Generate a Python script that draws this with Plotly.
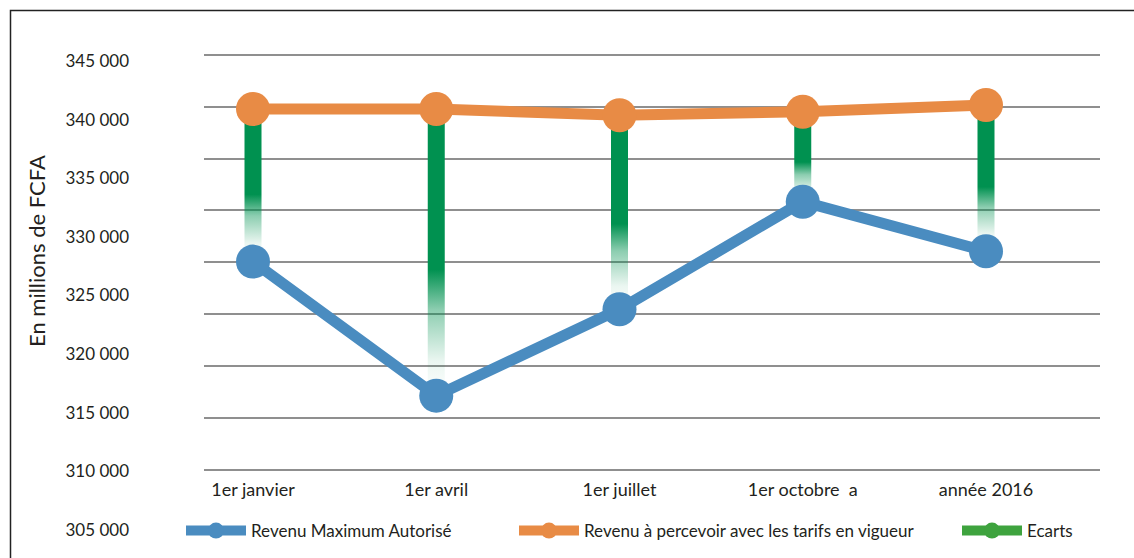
import plotly.graph_objects as go

# ---------------- data ----------------
categories = ["1er janvier", "1er avril", "1er juillet", "1er octobre  a", "année 2016"]
revenu_max = [325070, 312160, 320480, 330840, 326070]          # Revenu Maximum Autorisé
revenu_tarifs = [339770, 339770, 339160, 339510, 340160]       # Revenu à percevoir avec les tarifs en vigueur
y_ticks = [345000, 340000, 335000, 330000, 325000, 320000, 315000, 310000, 305000]
y_ticktext = ["345 000", "340 000", "335 000", "330 000", "325 000", "320 000", "315 000", "310 000", "305 000"]
legend_names = ["Revenu Maximum Autorisé", "Revenu à percevoir avec les tarifs en vigueur", "Ecarts"]

# ---------------- styling / layout geometry ----------------
W, H = 1134, 558
L, R, T, B = 204, 1100, 40, 556
PW, PH = R - L, B - T
BLUE = "#4a8cc0"
ORANGE = "#e88b45"
GREEN_LEG = "#3ea33e"
FONT = "Lato"
TXT = "#231f20"

def px_x(p):
    return (p - L) / PW

def px_y(p):
    return (B - p) / PH

def axis_range(v_top, p_top, v_bot, p_bot):
    scale = (p_bot - p_top) / (v_top - v_bot)  # px per unit
    r1 = v_top + (p_top - T) / scale
    r0 = v_bot - (B - p_bot) / scale
    return [r0, r1]

# data axis: gridlines 345000 at px 54.7, 305000 at px 470
y1_range = axis_range(345000, 54.7, 305000, 470.0)
# label axis: 345 000 label at px 61, 305 000 at px 530
y2_range = axis_range(345000, 61.0, 305000, 530.0)

# x: category index 0 at px 253, index 4 at px 986
unit = (986 - 253) / 4
x_range = [(L - 253) / unit, 4 + (R - 986) / unit]
xi = list(range(len(categories)))
half_w = 8.5 / unit

fig = go.Figure()

# Ecarts: gradient bars from orange down to blue
for i in xi:
    top, bot = revenu_tarifs[i], revenu_max[i]
    fig.add_trace(go.Scatter(
        x=[i - half_w, i + half_w, i + half_w, i - half_w, i - half_w],
        y=[top, top, bot, bot, top],
        mode="lines", line=dict(width=0), fill="toself",
        fillgradient=dict(type="vertical", colorscale=[
            [0, "rgba(0,145,80,0)"], [0.12, "rgba(0,145,80,0.08)"],
            [0.30, "rgba(0,145,80,0.45)"], [0.44, "rgba(0,145,80,1)"],
            [1, "rgba(0,145,80,1)"]]),
        showlegend=False, hoverinfo="skip"))

fig.add_trace(go.Scatter(
    x=xi, y=revenu_max, name=legend_names[0], mode="lines+markers",
    line=dict(color=BLUE, width=11), marker=dict(color=BLUE, size=34),
    legend="legend"))
fig.add_trace(go.Scatter(
    x=xi, y=revenu_tarifs, name=legend_names[1], mode="lines+markers",
    line=dict(color=ORANGE, width=11), marker=dict(color=ORANGE, size=34),
    legend="legend2"))
fig.add_trace(go.Scatter(
    x=[None], y=[None], name=legend_names[2], mode="lines+markers",
    line=dict(color=GREEN_LEG, width=11), marker=dict(color=GREEN_LEG, size=34),
    legend="legend3"))
# invisible trace so the label axis is drawn
fig.add_trace(go.Scatter(x=[0], y=[325000], yaxis="y2", mode="markers",
                         marker=dict(opacity=0), showlegend=False, hoverinfo="skip"))

leg_common = dict(orientation="h", yanchor="middle", y=px_y(531), xanchor="left",
                  font=dict(family=FONT, size=17, color=TXT), bgcolor="rgba(0,0,0,0)",
                  itemwidth=60)

fig.update_layout(
    width=W, height=H,
    margin=dict(l=L, r=W - R, t=T, b=H - B),
    paper_bgcolor="white", plot_bgcolor="white",
    font=dict(family=FONT, size=17, color=TXT),
    xaxis=dict(range=x_range, tickvals=xi, ticktext=categories, showgrid=False,
               zeroline=False, showline=False, anchor="free", position=px_y(470),
               ticklabelstandoff=7, tickfont=dict(family=FONT, size=18, color=TXT)),
    yaxis=dict(range=y1_range, tickvals=y_ticks, showticklabels=False, showgrid=True,
               gridcolor="#8f8f8f", gridwidth=1.6, zeroline=False, showline=False),
    yaxis2=dict(range=y2_range, overlaying="y", side="left", tickvals=y_ticks,
                ticktext=y_ticktext, showgrid=False, zeroline=False, showline=False,
                ticklabelstandoff=74, tickfont=dict(family=FONT, size=17, color=TXT)),
    legend=dict(x=px_x(181), **leg_common),
    legend2=dict(x=px_x(514), **leg_common),
    legend3=dict(x=px_x(957), **leg_common),
    annotations=[dict(text="En millions de FCFA", xref="paper", yref="paper",
                      x=px_x(37), y=px_y(251), textangle=-90, showarrow=False,
                      xanchor="center", yanchor="middle",
                      font=dict(family=FONT, size=22, color=TXT))],
    shapes=[dict(type="rect", xref="paper", yref="paper",
                 x0=px_x(10.5), x1=px_x(1145), y0=px_y(570), y1=px_y(10.5),
                 line=dict(color="#222222", width=1.5), fillcolor="rgba(0,0,0,0)",
                 layer="below")],
    showlegend=True,
)

fig.write_html("out.html")
